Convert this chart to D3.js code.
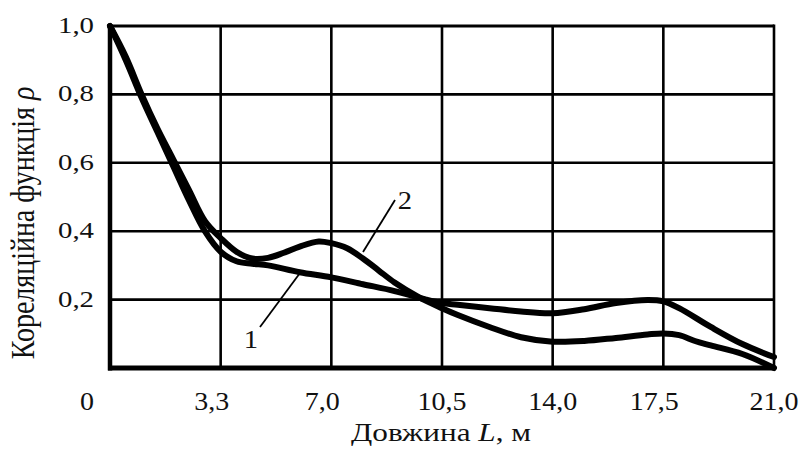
<!DOCTYPE html>
<html><head><meta charset="utf-8">
<script src="https://cdn.jsdelivr.net/npm/d3@7"></script>
<style>
html,body{margin:0;padding:0;background:#fff;}
text{font-family:"Liberation Serif","Times New Roman",serif;fill:#111;}
</style></head>
<body><svg id="c" width="804" height="450"></svg>
<script>
// ---- data ----
const xTickValues = [0, 3.5, 7, 10.5, 14, 17.5, 21];
const xTickLabels = ["0", "3,3", "7,0", "10,5", "14,0", "17,5", "21,0"];
const yTickValues = [0.2, 0.4, 0.6, 0.8, 1.0];
const yTickLabels = ["0,2", "0,4", "0,6", "0,8", "1,0"];

const curve1L = [0, 0.5, 1, 1.5, 2, 2.5, 3, 3.5, 4, 4.5, 5, 6, 7, 8, 9, 10, 10.5, 11, 12, 13, 14, 15, 16, 17, 17.5, 18, 19, 20, 21];
const curve1Rho = [1.0, 0.9, 0.79, 0.69, 0.59, 0.49, 0.40, 0.34, 0.312, 0.305, 0.30, 0.28, 0.265, 0.245, 0.225, 0.20, 0.19, 0.185, 0.175, 0.165, 0.16, 0.172, 0.19, 0.199, 0.195, 0.175, 0.12, 0.07, 0.032];

const curve2L = [0, 0.5, 1, 1.5, 2, 2.5, 3, 3.5, 4, 4.5, 5, 5.5, 6, 6.6, 7, 7.5, 8, 8.5, 9, 9.75, 10.5, 11, 12, 13, 14, 15, 16, 17, 17.5, 18, 18.5, 19, 20, 21];
const curve2Rho = [1.0, 0.91, 0.80, 0.70, 0.61, 0.52, 0.43, 0.38, 0.34, 0.32, 0.322, 0.337, 0.355, 0.37, 0.365, 0.35, 0.32, 0.285, 0.25, 0.208, 0.175, 0.155, 0.12, 0.09, 0.077, 0.079, 0.088, 0.098, 0.101, 0.096, 0.079, 0.066, 0.041, 0.0];

const xTitle = "Довжина ";
const yTitle = "Кореляційна функція ";

// ---- layout ----
const svg = d3.select("#c");
const x = d3.scaleLinear().domain([0, 21]).range([110, 774]);
const y = d3.scaleLinear().domain([0, 1]).range([368, 26]);
const stretch = (px, py, s) => `translate(${px},${py}) scale(${s},1)`;

// gridlines
const g = svg.append("g");
g.selectAll("line.vx").data(xTickValues.slice(1, -1)).join("line")
  .attr("x1", d => x(d)).attr("x2", d => x(d)).attr("y1", y(0)).attr("y2", y(1))
  .attr("stroke", "#000").attr("stroke-width", 2.6);
g.selectAll("line.hy").data(yTickValues.slice(0, -1)).join("line")
  .attr("y1", d => y(d)).attr("y2", d => y(d)).attr("x1", x(0)).attr("x2", x(21))
  .attr("stroke", "#000").attr("stroke-width", 2.6);
// frame
g.append("line").attr("x1", x(0)).attr("x2", x(21)).attr("y1", y(1)).attr("y2", y(1)).attr("stroke", "#000").attr("stroke-width", 3);
g.append("line").attr("x1", x(21)).attr("x2", x(21)).attr("y1", y(1) - 1.5).attr("y2", y(0)).attr("stroke", "#000").attr("stroke-width", 2.6);
g.append("line").attr("x1", x(0)).attr("x2", x(0)).attr("y1", y(1) - 1.5).attr("y2", y(0) + 2.5).attr("stroke", "#000").attr("stroke-width", 4.5);
g.append("line").attr("x1", x(0) - 2).attr("x2", x(21) + 1.5).attr("y1", y(0)).attr("y2", y(0)).attr("stroke", "#000").attr("stroke-width", 5);

// curves
const line = d3.line().x(d => x(d[0])).y(d => y(d[1])).curve(d3.curveCatmullRom.alpha(0.5));
const c1 = curve1L.map((l, i) => [l, curve1Rho[i]]);
const c2 = curve2L.map((l, i) => [l, curve2Rho[i]]);
[c1, c2].forEach(c => {
  svg.append("path").attr("d", line(c)).attr("fill", "none")
    .attr("stroke", "#000").attr("stroke-width", 6)
    .attr("stroke-linecap", "round").attr("stroke-linejoin", "round");
});

// leader labels
svg.append("line").attr("x1", 260).attr("y1", 327).attr("x2", 300).attr("y2", 273).attr("stroke", "#000").attr("stroke-width", 1.8);
svg.append("text").attr("transform", stretch(251, 348, 1.1)).attr("font-size", 26).attr("text-anchor", "middle").text("1");
svg.append("line").attr("x1", 395).attr("y1", 200).attr("x2", 363).attr("y2", 252).attr("stroke", "#000").attr("stroke-width", 1.8);
svg.append("text").attr("transform", stretch(405, 209, 1.1)).attr("font-size", 26).attr("text-anchor", "middle").text("2");

// x tick labels
svg.selectAll("text.xt").data(xTickValues).join("text")
  .attr("class", "xt")
  .attr("transform", (d, i) => stretch(i === 0 ? x(d) - 23 : x(d) - (i === 1 || i === 2 || i === 5 ? 9 : 0), 410, 1.12))
  .attr("font-size", 25).attr("text-anchor", "middle")
  .text((d, i) => xTickLabels[i]);
// y tick labels
svg.selectAll("text.yt").data(yTickValues).join("text")
  .attr("class", "yt")
  .attr("transform", d => stretch(94, y(d) + 7, 1.2))
  .attr("font-size", 24).attr("text-anchor", "end")
  .text((d, i) => yTickLabels[i]);

// titles
const xt = svg.append("text").attr("transform", stretch(441, 441, 1.2)).attr("font-size", 26).attr("text-anchor", "middle");
xt.append("tspan").text(xTitle);
xt.append("tspan").attr("font-style", "italic").text("L");
xt.append("tspan").text(", м");

const yt = svg.append("text").attr("transform", "translate(34,223) scale(1.2,1) rotate(-90)").attr("font-size", 28).attr("text-anchor", "middle");
yt.append("tspan").text(yTitle);
yt.append("tspan").attr("font-style", "italic").text("ρ");
</script></body></html>
